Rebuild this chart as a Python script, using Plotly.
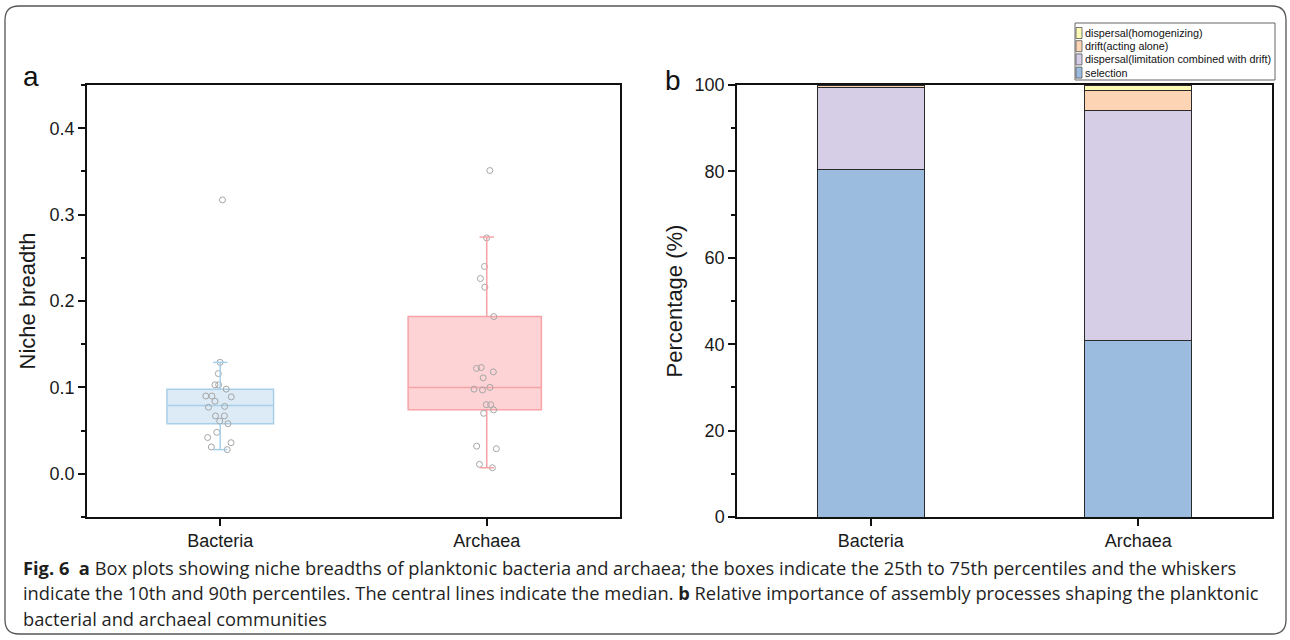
import plotly.graph_objects as go

W, H = 1290, 640

# ---------------- data ----------------
groups = ["Bacteria", "Archaea"]

bacteria_niche = [0.317, 0.129, 0.116, 0.103, 0.103, 0.098, 0.089, 0.090, 0.090, 0.084,
                  0.078, 0.077, 0.067, 0.067, 0.061, 0.058, 0.048, 0.042, 0.036, 0.028, 0.031]
archaea_niche = [0.351, 0.273, 0.240, 0.226, 0.216, 0.182, 0.118, 0.122, 0.123, 0.111,
                 0.100, 0.098, 0.097, 0.080, 0.080, 0.074, 0.070, 0.032, 0.029, 0.011, 0.007]

# box statistics (10th / 25th / 50th / 75th / 90th percentiles)
box_p10 = [0.028, 0.007]
box_q1 = [0.058, 0.074]
box_median = [0.079, 0.100]
box_q3 = [0.098, 0.182]
box_p90 = [0.129, 0.274]

processes = ["selection", "dispersal(limitation combined with drift)",
             "drift(acting alone)", "dispersal(homogenizing)"]
process_values = {
    "selection": [80.5, 40.8],
    "dispersal(limitation combined with drift)": [19.0, 53.4],
    "drift(acting alone)": [0.3, 4.6],
    "dispersal(homogenizing)": [0.2, 1.2],
}

caption_lines = [
    "<b>Fig. 6</b>  <b>a</b> Box plots showing niche breadths of planktonic bacteria and archaea; the boxes indicate the 25th to 75th percentiles and the whiskers",
    "indicate the 10th and 90th percentiles. The central lines indicate the median. <b>b</b> Relative importance of assembly processes shaping the planktonic",
    "bacterial and archaeal communities",
]

# ---------------- styles ----------------
box_fill = ["rgba(208,228,242,0.75)", "rgba(253,200,203,0.8)"]
box_line = ["#a8cfe9", "#f7a3a8"]
box_pos = [0.0, 0.955]
box_width = [0.40, 0.50]
whisker_pos = [0.0, 1.0]
cap_half = 0.027
proc_colors = {
    "selection": "#9bbbdf",
    "dispersal(limitation combined with drift)": "#d6cde6",
    "drift(acting alone)": "#fdd5b5",
    "dispersal(homogenizing)": "#fdfab4",
}
FONT = "Liberation Sans, Arial, sans-serif"
TXT = "#1a1a1a"


def px(x):
    return x / W


def py(y):
    return 1 - y / H


fig = go.Figure()

# ---- panel a: whiskers (10th-90th percentiles) ----
for i, g in enumerate(groups):
    c = whisker_pos[i]
    wx = [c, c, None, c, c, None, c - cap_half, c + cap_half, None, c - cap_half, c + cap_half]
    wy = [box_p10[i], box_q1[i], None, box_q3[i], box_p90[i], None,
          box_p10[i], box_p10[i], None, box_p90[i], box_p90[i]]
    fig.add_trace(go.Scatter(x=wx, y=wy, mode="lines", line=dict(color=box_line[i], width=1.5),
                             showlegend=False, hoverinfo="skip", xaxis="x", yaxis="y"))

# ---- panel a: boxes ----
for i, g in enumerate(groups):
    fig.add_trace(go.Box(
        x=[box_pos[i]], q1=[box_q1[i]], median=[box_median[i]], q3=[box_q3[i]],
        lowerfence=[box_q1[i]], upperfence=[box_q3[i]],
        width=box_width[i], whiskerwidth=0,
        fillcolor=box_fill[i], line=dict(color=box_line[i], width=1.5),
        boxpoints=False, showlegend=False, name=g,
        xaxis="x", yaxis="y",
    ))

# ---- panel a: sample points ----
for i, vals in enumerate([bacteria_niche, archaea_niche]):
    fig.add_trace(go.Box(
        x=[whisker_pos[i]] * len(vals), y=vals, width=0.13,
        boxpoints="all", jitter=1.0, pointpos=0,
        fillcolor="rgba(0,0,0,0)", line=dict(color="rgba(0,0,0,0)", width=0),
        marker=dict(symbol="circle-open", size=6, color="#a6a6a6", line=dict(width=1)),
        showlegend=False, name=groups[i], xaxis="x", yaxis="y",
    ))

# ---- panel b: stacked bars ----
for p in processes:
    fig.add_trace(go.Bar(
        x=[0, 1], y=process_values[p], name=p, width=0.4,
        marker=dict(color=proc_colors[p], line=dict(color="#2a2a2a", width=1)),
        showlegend=False, xaxis="x2", yaxis="y2",
    ))

axis_common = dict(showline=True, linecolor="#111", linewidth=1.5, mirror=True,
                   ticks="outside", tickcolor="#111", tickwidth=1.5, ticklen=7,
                   showgrid=False, zeroline=False, automargin=False,
                   tickfont=dict(family=FONT, size=18, color=TXT))

fig.update_layout(
    width=W, height=H, autosize=False,
    margin=dict(l=0, r=0, t=0, b=0, pad=0, autoexpand=False),
    paper_bgcolor="white", plot_bgcolor="white",
    boxmode="overlay", barmode="stack", showlegend=False,
    font=dict(family=FONT, color=TXT),
    xaxis=dict(domain=[px(87), px(620)], range=[-0.5, 1.5], tickvals=[0, 1], ticktext=groups,
               **axis_common),
    yaxis=dict(domain=[py(517), py(85)], range=[-0.05, 0.45], tickvals=[0, 0.1, 0.2, 0.3, 0.4],
               tickformat=".1f",
               minor=dict(dtick=0.05, tick0=0, ticks="outside", ticklen=4, tickcolor="#111", tickwidth=1.5),
               title=dict(text="Niche breadth", font=dict(family=FONT, size=22, color=TXT), standoff=8),
               **axis_common),
    xaxis2=dict(domain=[px(737), px(1272)], range=[-0.5, 1.5], tickvals=[0, 1], ticktext=groups,
                anchor="y2", **axis_common),
    yaxis2=dict(domain=[py(517), py(85)], range=[0, 100], tickvals=[0, 20, 40, 60, 80, 100],
                minor=dict(dtick=10, tick0=0, ticks="outside", ticklen=4, tickcolor="#111", tickwidth=1.5),
                title=dict(text="Percentage (%)", font=dict(family=FONT, size=22, color=TXT), standoff=6),
                anchor="x2", **axis_common),
)

# ---- legend for panel b (drawn as shapes + text) ----
leg_x0, leg_y0, leg_x1, leg_y1 = 1075, 23, 1275, 80
fig.add_shape(type="rect", xref="paper", yref="paper",
              x0=px(leg_x0), x1=px(leg_x1), y0=py(leg_y1), y1=py(leg_y0),
              line=dict(color="#666", width=1), fillcolor="white")
for k, p in enumerate(reversed(processes)):
    yc = 33 + 13.2 * k
    fig.add_shape(type="rect", xref="paper", yref="paper",
                  x0=px(1076), x1=px(1082), y0=py(yc + 5.5), y1=py(yc - 5.5),
                  line=dict(color="#555", width=0.8), fillcolor=proc_colors[p])
    fig.add_annotation(text=p, x=px(1082.5), y=py(yc), xref="paper", yref="paper",
                       xanchor="left", yanchor="middle", showarrow=False,
                       font=dict(family=FONT, size=10.8, color="#111"))

# panel letters
fig.add_annotation(text="a", x=px(21), y=py(76), xref="paper", yref="paper",
                   xanchor="left", yanchor="middle", showarrow=False,
                   font=dict(family=FONT, size=28, color="#111"))
fig.add_annotation(text="b", x=px(663), y=py(80), xref="paper", yref="paper",
                   xanchor="left", yanchor="middle", showarrow=False,
                   font=dict(family=FONT, size=28, color="#111"))

# caption
for k, line in enumerate(caption_lines):
    fig.add_annotation(text=line, x=px(21), y=py(567 + 25.5 * k), xref="paper", yref="paper",
                       xanchor="left", yanchor="middle", showarrow=False, align="left",
                       font=dict(family="Open Sans, sans-serif", size=18.3, color="#1f1f1f"))

# rounded outer frame
x0, y0, x1, y1, r = 5, 6, 1286, 634, 14
path = (f"M {px(x0 + r)} {py(y0)} L {px(x1 - r)} {py(y0)} "
        f"Q {px(x1)} {py(y0)} {px(x1)} {py(y0 + r)} L {px(x1)} {py(y1 - r)} "
        f"Q {px(x1)} {py(y1)} {px(x1 - r)} {py(y1)} L {px(x0 + r)} {py(y1)} "
        f"Q {px(x0)} {py(y1)} {px(x0)} {py(y1 - r)} L {px(x0)} {py(y0 + r)} "
        f"Q {px(x0)} {py(y0)} {px(x0 + r)} {py(y0)} Z")
fig.add_shape(type="path", path=path, xref="paper", yref="paper",
              line=dict(color="#555", width=1.3), layer="below")

fig.write_html("out.html")
